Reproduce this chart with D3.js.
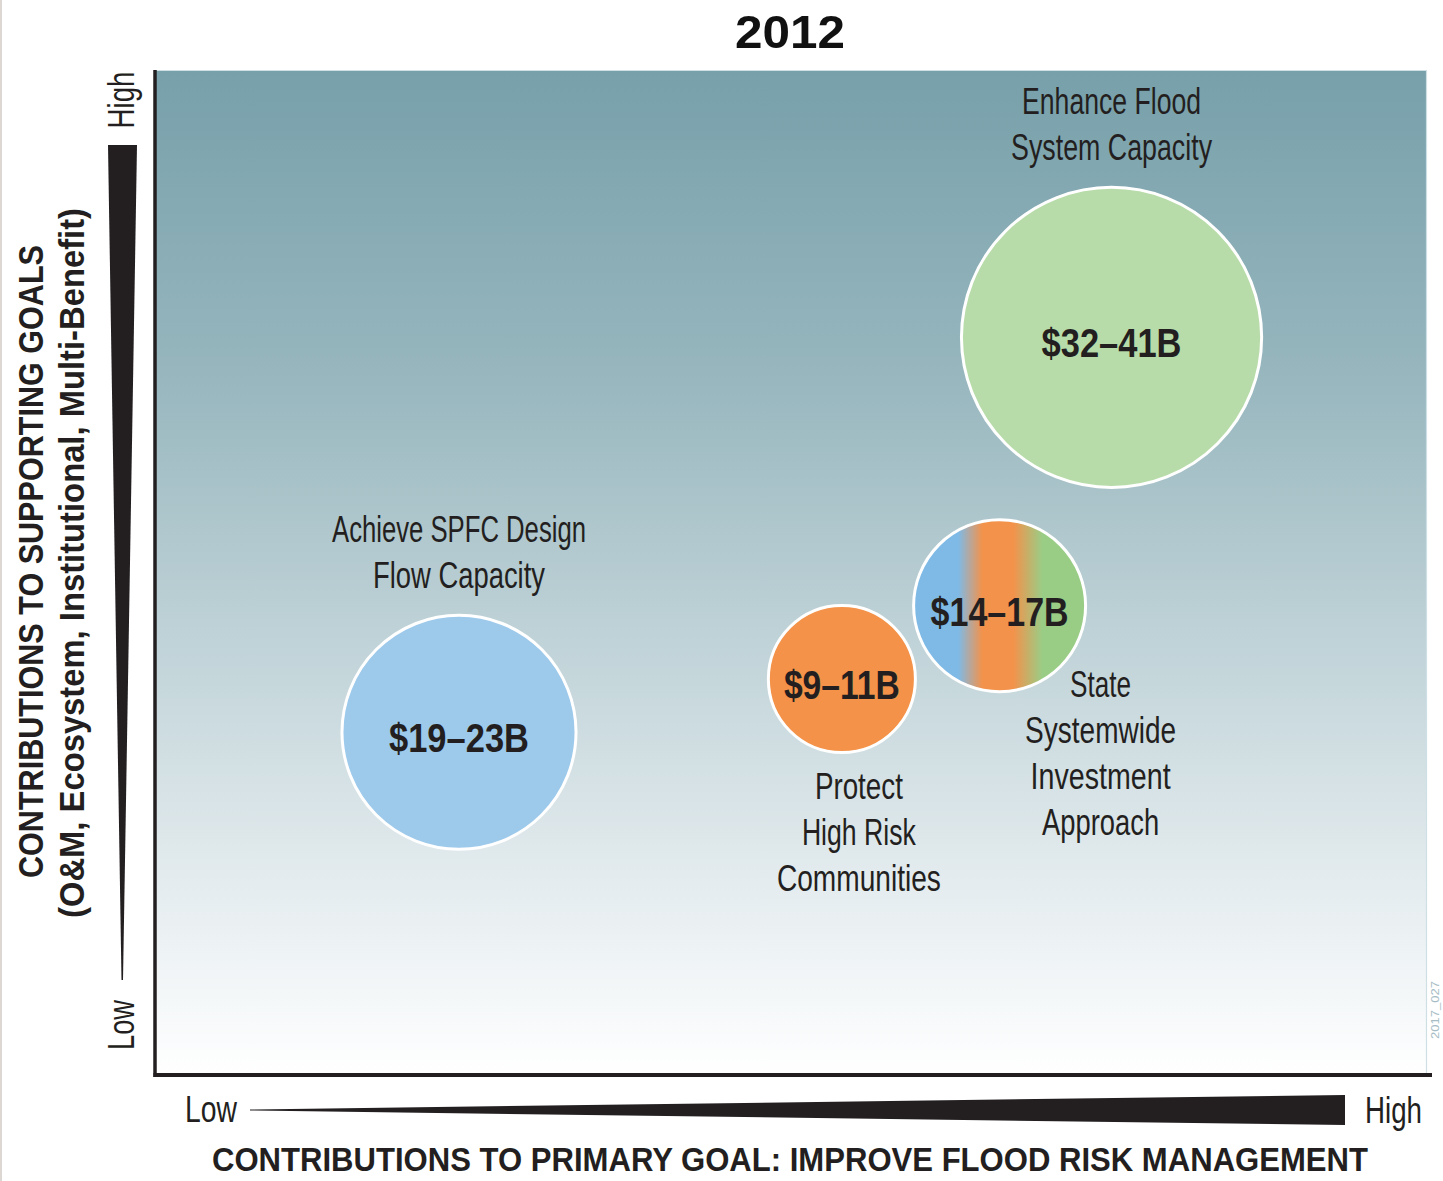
<!DOCTYPE html>
<html><head><meta charset="utf-8">
<script src="https://cdn.jsdelivr.net/npm/d3@7"></script>
<style>body{margin:0;background:#fff;} svg{display:block}</style>
</head><body>
<svg id="chart" width="1443" height="1181"></svg>
<script>
// ---------------- data ----------------
const title = "2012";
const categories = ["Achieve SPFC Design Flow Capacity", "Enhance Flood System Capacity", "Protect High Risk Communities", "State Systemwide Investment Approach"];
const labelLines = [["Achieve SPFC Design", "Flow Capacity"], ["Enhance Flood", "System Capacity"], ["Protect", "High Risk", "Communities"], ["State", "Systemwide", "Investment", "Approach"]];
const primaryGoal = [2.39, 7.52, 5.40, 6.64];      // x: contribution to primary goal (0-10)
const supportingGoals = [3.41, 7.34, 3.94, 4.67];  // y: contribution to supporting goals (0-10)
const bubbleSize = [0.92, 1.18, 0.578, 0.676];     // relative bubble radius (x units)
const costLabels = ["$19–23B", "$32–41B", "$9–11B", "$14–17B"];
const axisLevels = ["Low", "High"];
const xTitle = "CONTRIBUTIONS TO PRIMARY GOAL: IMPROVE FLOOD RISK MANAGEMENT";
const yTitle = ["CONTRIBUTIONS TO SUPPORTING GOALS", "(O&M, Ecosystem, Institutional, Multi-Benefit)"];
const stamp = "2017_027";

// ---------------- layout / style ----------------
const W = 1443, H = 1181;
const plot = {left: 155, right: 1427, top: 70, bottom: 1075};
const ink = "#231f20";
const FONT = "'Liberation Sans', Arial, sans-serif";
const fills = ["#9dc9eb", "#b8dca9", "#f39248", "url(#multi)"];
// measured text widths (to emulate the condensed typeface)
const widths = {
  "Achieve SPFC Design": 254, "Flow Capacity": 172, "Enhance Flood": 179, "System Capacity": 201,
  "Protect": 88, "High Risk": 114, "Communities": 164, "State": 61, "Systemwide": 151,
  "Investment": 140, "Approach": 117,
  "$19–23B": 140, "$32–41B": 140, "$9–11B": 116, "$14–17B": 138
};
const placement = [
  {pos: "above"}, {pos: "above"},
  {pos: "below", dx: 17, dy: 46},
  {pos: "center", dx: 101, dy: 91}
];
const lineGap = 46;

const svg = d3.select("#chart");
const defs = svg.append("defs");

const bg = defs.append("linearGradient").attr("id", "bg").attr("x1", 0).attr("y1", 0).attr("x2", 0).attr("y2", 1);
[[0, "#77a0aa"], [0.3, "#97b6be"], [0.55, "#bdd1d6"], [0.8, "#e3ebee"], [1, "#ffffff"]]
  .forEach(([o, c]) => bg.append("stop").attr("offset", o).attr("stop-color", c));

const mg = defs.append("linearGradient").attr("id", "multi").attr("x1", 0).attr("y1", 0).attr("x2", 1).attr("y2", 0);
[[0, "#7fbae6"], [0.26, "#7fbae6"], [0.40, "#f3924b"], [0.58, "#f3924b"], [0.75, "#99cd86"], [1, "#99cd86"]]
  .forEach(([o, c]) => mg.append("stop").attr("offset", o).attr("stop-color", c));

// left page strip
svg.append("rect").attr("x", 0).attr("y", 0).attr("width", 2).attr("height", H).attr("fill", "#ddd7d3");

const x = d3.scaleLinear().domain([0, 10]).range([plot.left, plot.right]);
const y = d3.scaleLinear().domain([0, 10]).range([plot.bottom, plot.top]);

// plot background
svg.append("rect").attr("x", plot.left).attr("y", plot.top)
  .attr("width", plot.right - plot.left).attr("height", plot.bottom - plot.top)
  .attr("fill", "url(#bg)");
svg.append("path").attr("d", `M${plot.left},${plot.top + 0.5}H${plot.right - 0.5}V${plot.bottom}`)
  .attr("fill", "none").attr("stroke", "#cfe0e4").attr("stroke-width", 1.2);

// axes lines
svg.append("line").attr("x1", plot.left).attr("x2", plot.left).attr("y1", plot.top).attr("y2", plot.bottom + 2)
  .attr("stroke", ink).attr("stroke-width", 3.5);
svg.append("line").attr("x1", plot.left - 1.5).attr("x2", 1432).attr("y1", plot.bottom).attr("y2", plot.bottom)
  .attr("stroke", ink).attr("stroke-width", 4);

function fitText(sel, w) { if (w) sel.attr("textLength", w).attr("lengthAdjust", "spacingAndGlyphs"); return sel; }

// title
fitText(svg.append("text").attr("x", 790).attr("y", 48).attr("text-anchor", "middle")
  .attr("font-family", FONT).attr("font-weight", "bold").attr("font-size", 47).attr("fill", "#111")
  .text(title), 110);

// bubbles
const data = categories.map((c, i) => ({
  name: c, lines: labelLines[i], px: primaryGoal[i], sy: supportingGoals[i],
  size: bubbleSize[i], cost: costLabels[i], fill: fills[i], place: placement[i]
}));

const g = svg.append("g");
data.forEach(d => {
  const cx = x(d.px), cy = y(d.sy), r = x(d.size) - x(0);
  g.append("circle").attr("cx", cx).attr("cy", cy).attr("r", r)
    .attr("fill", d.fill).attr("stroke", "#ffffff").attr("stroke-width", 3);
  fitText(g.append("text").attr("x", cx).attr("y", cy + 20).attr("text-anchor", "middle")
    .attr("font-family", FONT).attr("font-weight", "bold").attr("font-size", 41).attr("fill", ink)
    .text(d.cost), widths[d.cost]);
  const n = d.lines.length;
  let lx = cx + (d.place.dx || 0), first;
  if (d.place.pos === "above") first = cy - r - 27 - (n - 1) * lineGap;
  else if (d.place.pos === "below") first = cy + r + d.place.dy;
  else first = cy + d.place.dy;
  d.lines.forEach((ln, k) => {
    fitText(g.append("text").attr("x", lx).attr("y", first + k * lineGap).attr("text-anchor", "middle")
      .attr("font-family", FONT).attr("font-size", 37).attr("fill", ink).text(ln), widths[ln]);
  });
});

// y-axis wedge
svg.append("path").attr("d", "M108,145 L137,145 L123,980 L121.5,980 Z").attr("fill", ink);
// x-axis wedge
svg.append("path").attr("d", "M250,1109.5 L1345,1095 L1345,1125 L250,1110.5 Z").attr("fill", ink);

// Low/High labels (y)
fitText(svg.append("text").attr("transform", "translate(134,100) rotate(-90)").attr("text-anchor", "middle")
  .attr("font-family", FONT).attr("font-size", 37).attr("fill", ink).text(axisLevels[1]), 57);
fitText(svg.append("text").attr("transform", "translate(134,1025) rotate(-90)").attr("text-anchor", "middle")
  .attr("font-family", FONT).attr("font-size", 37).attr("fill", ink).text(axisLevels[0]), 50);
// Low/High labels (x)
fitText(svg.append("text").attr("x", 185).attr("y", 1122)
  .attr("font-family", FONT).attr("font-size", 37).attr("fill", ink).text(axisLevels[0]), 52);
fitText(svg.append("text").attr("x", 1365).attr("y", 1123)
  .attr("font-family", FONT).attr("font-size", 37).attr("fill", ink).text(axisLevels[1]), 57);

// axis titles
fitText(svg.append("text").attr("x", 790).attr("y", 1171).attr("text-anchor", "middle")
  .attr("font-family", FONT).attr("font-weight", "bold").attr("font-size", 33).attr("fill", ink).text(xTitle), 1156);
fitText(svg.append("text").attr("transform", "translate(43,561.5) rotate(-90)").attr("text-anchor", "middle")
  .attr("font-family", FONT).attr("font-weight", "bold").attr("font-size", 35).attr("fill", ink).text(yTitle[0]), 633);
fitText(svg.append("text").attr("transform", "translate(84,563) rotate(-90)").attr("text-anchor", "middle")
  .attr("font-family", FONT).attr("font-weight", "bold").attr("font-size", 35).attr("fill", ink).text(yTitle[1]), 710);

// stamp
fitText(svg.append("text").attr("transform", "translate(1439,1010) rotate(-90)").attr("text-anchor", "middle")
  .attr("font-family", FONT).attr("font-size", 11).attr("fill", "#a6bcc4").text(stamp), 58);
</script>
</body></html>
